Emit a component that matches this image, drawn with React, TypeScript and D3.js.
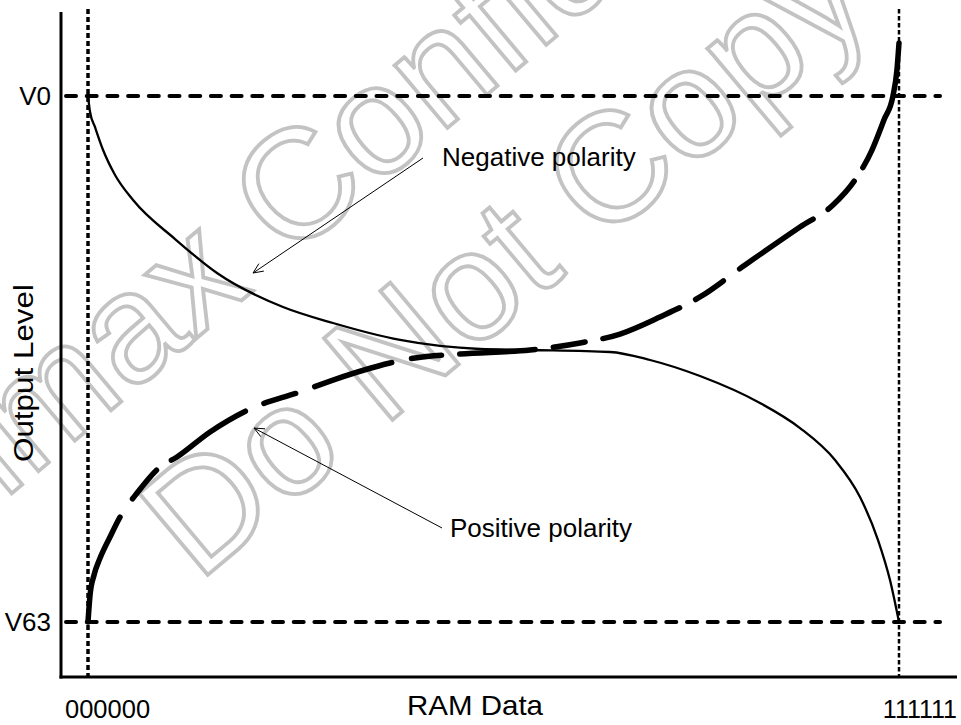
import React from "react";
import * as d3 from "d3";

// ---- data (RAM data code 0..63, output level 0 = V0 .. 63 = V63) ----
const xTickValues = [0, 63];
const xTickLabels = ["000000", "111111"];
const yTickValues = [0, 63];
const yTickLabels = ["V0", "V63"];

const negX = [0, 0.16, 0.54, 1.17, 2.1, 3.5, 6.76, 10.02, 15.15, 19.03, 24.24, 30.45, 34.34, 40.55, 43.66, 47.54, 52.2, 55.31, 58.03, 59.97, 61.37, 62.3, 63];
const negY = [0, 1.92, 3.71, 6.47, 9.46, 12.46, 17.13, 21.2, 25.27, 27.19, 29.22, 30.3, 30.42, 30.66, 31.62, 33.54, 36.77, 39.77, 43.6, 48.03, 53.18, 57.97, 63];

const posX = [0, 0.16, 0.47, 0.93, 1.71, 2.49, 3.81, 5.59, 6.91, 9.48, 12.58, 16.47, 19.03, 23.46, 25.4, 28.9, 34.34, 38.22, 41.33, 44.43, 47.54, 51.04, 55.31, 57.87, 59.58, 60.9, 61.83, 62.53, 62.84, 63];
const posY = [63, 59.77, 57.37, 55.37, 52.82, 50.43, 47.55, 44.44, 43.24, 40.24, 37.49, 35.45, 34.02, 31.98, 31.38, 30.9, 30.42, 29.58, 28.51, 26.47, 24.07, 20.24, 15.69, 13.06, 10.06, 6.47, 2.87, 0, -3.11, -6.35];

const annotationLabels = ["Negative polarity", "Positive polarity"];
const annotationTipX = [12.82, 12.9];
const annotationTipY = [21.2, 39.77];
const annotationTailX = [26.02, 27.5];
const annotationTailY = [7.43, 51.74];
const annotationTextX = [27.5, 28.12];
const annotationTextY = [8.38, 52.82];

const xAxisTitle = "RAM Data";
const yAxisTitle = "Output Level";
const watermarkLines = ["Himax Confidential", "Do Not Copy"];

const W = 961;
const H = 725;
const FONT = "'Liberation Sans', Arial, Helvetica, sans-serif";

export default function App() {
  const x = d3.scaleLinear().domain([0, 63]).range([88, 899]);
  const y = d3.scaleLinear().domain([0, 63]).range([96, 622]);

  const axisX = 61;
  const axisY = 677;

  const line = d3
    .line<[number, number]>()
    .x((d) => x(d[0]))
    .y((d) => y(d[1]))
    .curve(d3.curveMonotoneX);

  const negPath = line(negX.map((v, i) => [v, negY[i]]) as [number, number][]) || "";
  const posPath = line(posX.map((v, i) => [v, posY[i]]) as [number, number][]) || "";

  const arrowHead = (tx: number, ty: number, fx: number, fy: number) => {
    const ang = Math.atan2(fy - ty, fx - tx);
    const len = 11;
    const spread = (24 * Math.PI) / 180;
    const p1 = [tx + len * Math.cos(ang + spread), ty + len * Math.sin(ang + spread)];
    const p2 = [tx + len * Math.cos(ang - spread), ty + len * Math.sin(ang - spread)];
    return `M${p1[0]},${p1[1]}L${tx},${ty}L${p2[0]},${p2[1]}`;
  };

  return (
    <svg
      width={W}
      height={H}
      style={{ position: "absolute", left: 0, top: 0, background: "#fff" }}
      fontFamily={FONT}
    >
      <rect x={0} y={0} width={W} height={H} fill="#fff" />
      {/* watermark */}
      <g fill="none" stroke="#c3c3c3" strokeWidth={3.8} fontSize={155} fontFamily={FONT}>
        <text transform="translate(-82,572) rotate(-40)">{watermarkLines[0]}</text>
        <text transform="translate(198,583) rotate(-40)">{watermarkLines[1]}</text>
      </g>

      {/* axes */}
      <line x1={axisX} y1={12} x2={axisX} y2={axisY + 1.5} stroke="#000" strokeWidth={3} />
      <line x1={axisX - 1.5} y1={axisY} x2={957} y2={axisY} stroke="#000" strokeWidth={3} />

      {/* reference vertical dotted lines */}
      <line x1={x(xTickValues[0])} y1={9} x2={x(xTickValues[0])} y2={axisY} stroke="#000" strokeWidth={3.5} strokeDasharray="5,3" />
      <line x1={x(xTickValues[1])} y1={9} x2={x(xTickValues[1])} y2={axisY} stroke="#000" strokeWidth={2.5} strokeDasharray="4.5,2.5" />

      {/* reference horizontal dashed lines */}
      {yTickValues.map((v, i) => (
        <line key={"h" + i} x1={66} y1={y(v)} x2={940} y2={y(v)} stroke="#000" strokeWidth={4} strokeDasharray="10,10.7" strokeLinecap="round" />
      ))}

      {/* curves */}
      <path d={negPath} fill="none" stroke="#000" strokeWidth={2.3} />
      <path
        d={posPath}
        fill="none"
        stroke="#000"
        strokeWidth={5.5}
        strokeLinecap="round"
        pathLength={1082}
        strokeDasharray="110,22,37,18,88,20,33,20,80,20,30,18,75,18,32,18,82,18,33,20,88,18,38,16,140"
      />

      {/* annotations */}
      {annotationLabels.map((lab, i) => {
        const tx = x(annotationTipX[i]);
        const ty = y(annotationTipY[i]);
        const fx = x(annotationTailX[i]);
        const fy = y(annotationTailY[i]);
        return (
          <g key={"a" + i}>
            <line x1={fx} y1={fy} x2={tx} y2={ty} stroke="#000" strokeWidth={1} />
            <path d={arrowHead(tx, ty, fx, fy)} fill="none" stroke="#000" strokeWidth={1} />
            <text x={x(annotationTextX[i])} y={y(annotationTextY[i])} fontSize={26} fill="#000">
              {lab}
            </text>
          </g>
        );
      })}

      {/* tick labels */}
      {yTickValues.map((v, i) => (
        <text key={"yt" + i} x={51} y={y(v) + 9} fontSize={26} textAnchor="end" fill="#000">
          {yTickLabels[i]}
        </text>
      ))}
      <text x={x(xTickValues[0]) - 23} y={718} fontSize={25.5} textAnchor="start" fill="#000">
        {xTickLabels[0]}
      </text>
      <text x={x(xTickValues[1]) + 58} y={718} fontSize={25} textAnchor="end" fill="#000">
        {xTickLabels[1]}
      </text>

      {/* axis titles */}
      <text x={475} y={715} fontSize={28} textAnchor="middle" textLength={136} lengthAdjust="spacingAndGlyphs" fill="#000">
        {xAxisTitle}
      </text>
      <text transform="translate(33,373) rotate(-90)" fontSize={27} textAnchor="middle" textLength={178} lengthAdjust="spacingAndGlyphs" fill="#000">
        {yAxisTitle}
      </text>
    </svg>
  );
}
